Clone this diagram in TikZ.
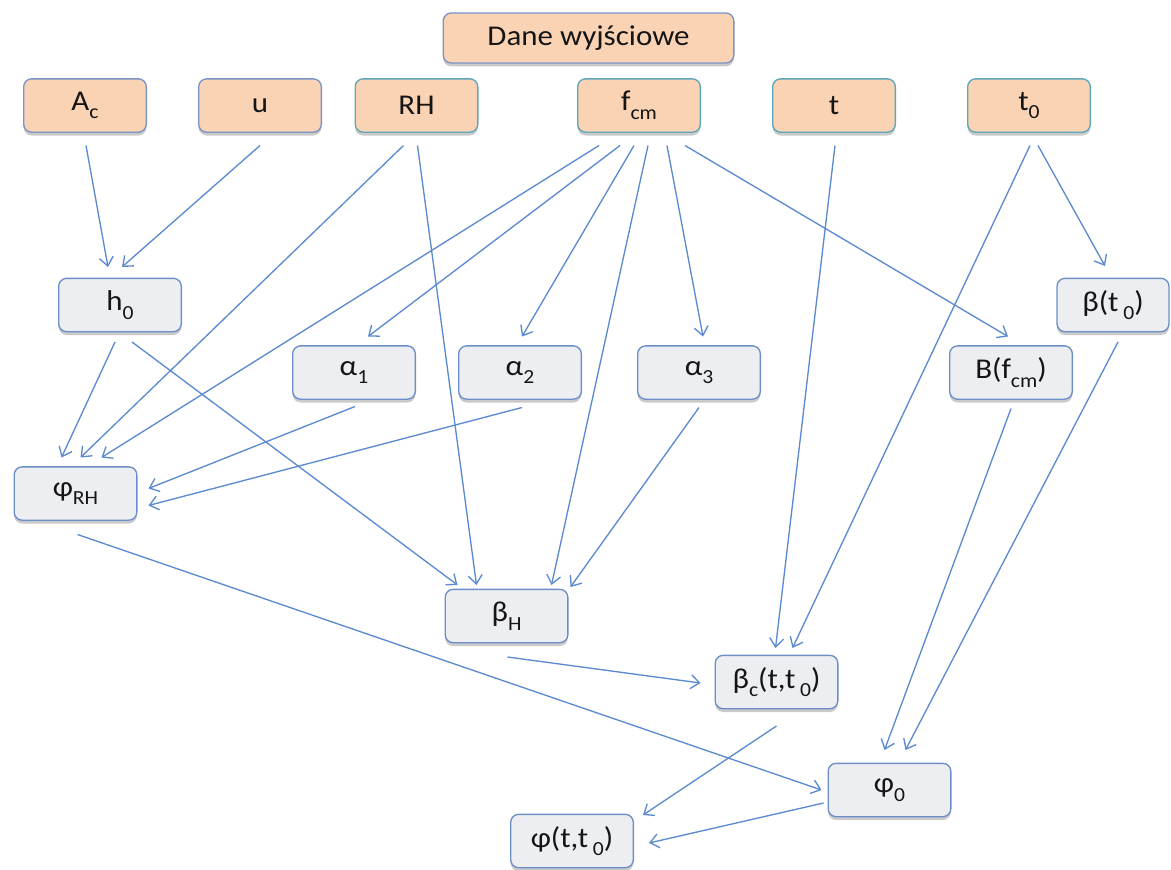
\documentclass[tikz,border=0pt]{standalone}
\usepackage{fontspec}
\setmainfont[FakeStretch=1.08]{Carlito}
\usetikzlibrary{arrows.meta,calc,shadows}
\definecolor{peach}{HTML}{FAD3B5}
\definecolor{inborder}{HTML}{7A93C6}
\definecolor{tealborder}{HTML}{5DA7BB}
\definecolor{grayfill}{HTML}{EDEEF1}
\definecolor{calcborder}{HTML}{6C8EC9}
\definecolor{arrowc}{HTML}{5B8AD0}
\definecolor{txt}{HTML}{151515}
\newcommand\mysub[1]{\raisebox{-0.3em}{\fontsize{15}{15}\selectfont #1}}
\begin{document}
\begin{tikzpicture}[x=0.75pt,y=-0.75pt,
  box/.style={rectangle, rounded corners=6pt, line width=1pt,
    minimum width=92pt, minimum height=40pt, inner sep=0pt,
    font=\fontsize{21.5}{24}\selectfont, text=txt,
    drop shadow={shadow xshift=0pt, shadow yshift=-2.5pt, opacity=0.35, fill=black!60}},
  inbox/.style={box, fill=peach, draw=inborder},
  inboxt/.style={box, fill=peach, draw=tealborder},
  calcbox/.style={box, fill=grayfill, draw=calcborder},
  conn/.style={draw=arrowc, line width=1pt, -{Straight Barb[length=6.5pt,width=10.5pt]}}
]
\useasboundingbox (0,0) rectangle (1171,869);

\node[inbox, minimum width=218pt, minimum height=37.5pt] (dane) at (588.5,38) {Dane wyjściowe};
\node[inbox] (Ac) at (85,105.5) {A\mysub{c}};
\node[inbox] (u) at (260,105.5) {u};
\node[inboxt] (RH) at (416.5,105.5) {RH};
\node[inboxt] (fcm) at (639,105.5) {f\mysub{cm}};
\node[inboxt] (t) at (834,105.5) {t};
\node[inboxt] (t0) at (1029,105.5) {t\mysub{0}};

\node[calcbox] (h0) at (120,305) {h\mysub{0}};
\node[calcbox, minimum width=84pt] (bt0) at (1113,305) {β(t\,\mysub{0})};
\node[calcbox] (a1) at (354,372.5) {α\mysub{1}};
\node[calcbox] (a2) at (520,372.5) {α\mysub{2}};
\node[calcbox] (a3) at (699,372.5) {α\mysub{3}};
\node[calcbox] (B) at (1011,372.5) {B(f\mysub{cm})};
\node[calcbox] (phiRH) at (75.5,493.5) {φ\mysub{RH}};
\node[calcbox] (bH) at (506.5,616) {β\mysub{H}};
\node[calcbox] (bc) at (776.5,682) {β\mysub{c}(t,t\,\mysub{0})};
\node[calcbox] (phi0) at (889.5,790) {φ\mysub{0}};
\node[calcbox] (phit) at (572,841) {φ(t,t\,\mysub{0})};

\draw[conn] ($(Ac)+(1,40)$) -- ($(h0)+(-12,-38)$);
\draw[conn] ($(u)+(0,40)$) -- ($(h0)+(2,-38)$);
\draw[conn] ($(RH)+(-13,40)$) -- ($(phiRH)+(5,-36)$);
\draw[conn] ($(RH)+(1,40)$) -- ($(bH)+(-30,-31)$);
\draw[conn] ($(fcm)+(-40,40)$) -- ($(phiRH)+(26,-36)$);
\draw[conn] ($(fcm)+(-19,40)$) -- ($(a1)+(14,-36)$);
\draw[conn] ($(fcm)+(-5,40)$) -- ($(a2)+(2,-36)$);
\draw[conn] ($(fcm)+(9,40)$) -- ($(bH)+(45,-31)$);
\draw[conn] ($(fcm)+(28,40)$) -- ($(a3)+(4,-36)$);
\draw[conn] ($(fcm)+(46,40)$) -- ($(B)+(-3,-36)$);
\draw[conn] ($(t)+(1,40)$) -- ($(bc)+(-1,-34)$);
\draw[conn] ($(t0)+(1,40)$) -- ($(bc)+(16,-34)$);
\draw[conn] ($(t0)+(9,40)$) -- ($(bt0)+(-8,-39)$);
\draw[conn] ($(h0)+(-5,37)$) -- ($(phiRH)+(-14,-36)$);
\draw[conn] ($(h0)+(12,37)$) -- ($(bH)+(-49,-31)$);
\draw[conn] ($(a1)+(1,34)$) -- ($(phiRH)+(73,-5)$);
\draw[conn] ($(a2)+(2,35)$) -- ($(phiRH)+(73,12)$);
\draw[conn] ($(a3)+(0,35)$) -- ($(bH)+(64,-29)$);
\draw[conn] ($(B)+(0,36)$) -- ($(phi0)+(-5,-40)$);
\draw[conn] ($(bt0)+(5,37)$) -- ($(phi0)+(16,-40)$);
\draw[conn] ($(phiRH)+(2,41)$) -- ($(phi0)+(-68,0)$);
\draw[conn] ($(bH)+(1,41)$) -- ($(bc)+(-76,1)$);
\draw[conn] ($(bc)+(0,44)$) -- ($(phit)+(71,-26)$);
\draw[conn] ($(phi0)+(-66,13)$) -- ($(phit)+(77,2)$);
\end{tikzpicture}
\end{document}
